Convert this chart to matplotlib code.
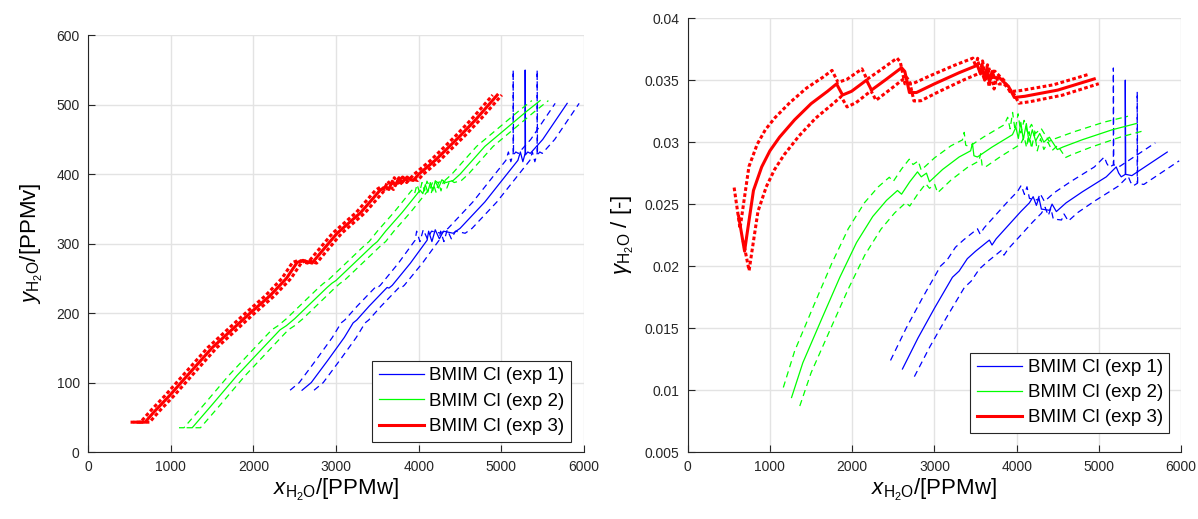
import numpy as np
import matplotlib
matplotlib.use("Agg")
import matplotlib.pyplot as plt

plt.rcParams['font.family'] = ['Liberation Sans', 'DejaVu Sans']
plt.rcParams['mathtext.fontset'] = 'custom'
plt.rcParams['mathtext.rm'] = 'Liberation Sans'
plt.rcParams['mathtext.it'] = 'Liberation Sans:italic'

labels = ["BMIM Cl (exp 1)", "BMIM Cl (exp 2)", "BMIM Cl (exp 3)"]
colors = ["#0000ff", "#00ff00", "#ff0000"]

# x error (PPMw) used for the dashed bounds of each experiment
x_err = [145, 100, 55]

# left: vapour water content vs liquid water content
exp1_x = [2589, 2700, 2900, 3100, 3207, 3250, 3400, 3618, 3640, 3680, 3900, 4102, 4120, 4160,
          4200, 4250, 4300, 4417, 4500, 4800, 5100, 5200, 5230, 5260, 5288, 5288, 5292, 5320,
          5350, 5500, 5796]
exp1_y = [89, 100, 132, 165, 186, 190, 210, 237, 236, 240, 272, 305, 318, 303,
          320, 307, 318, 315, 322, 360, 405, 420, 432, 418, 430, 550, 428, 432,
          430, 450, 502]

exp2_x = [1200, 1260, 1500, 1800, 2100, 2323, 2400, 2500, 2892, 2950, 3000, 3449, 3500, 3600,
          3800, 4017, 4050, 4080, 4110, 4140, 4170, 4200, 4240, 4280, 4330, 4417, 4500, 4800,
          5100, 5300, 5469]
exp2_y = [35, 35, 68, 110, 148, 176, 182, 192, 237, 243, 247, 298, 303, 318,
          345, 377, 372, 385, 374, 388, 376, 390, 380, 392, 388, 391, 400, 440,
          470, 490, 506]

exp3_x = [569, 690, 800, 992, 1200, 1500, 1960, 2200, 2400, 2529, 2600, 2710, 2800, 3013,
          3300, 3533, 3600, 3640, 3680, 3720, 3760, 3800, 3860, 3900, 3933, 4000, 4200, 4500,
          4700, 4950]
exp3_y = [43, 43, 58, 82, 110, 150, 200, 225, 250, 273, 276, 272, 285, 315,
          345, 377, 382, 378, 390, 384, 395, 388, 396, 392, 391, 400, 420, 455,
          480, 514]

# right: activity coefficient vs liquid water content
g1_x = [2611, 2800, 3000, 3219, 3300, 3400, 3500, 3668, 3700, 3750, 3900, 4050, 4154, 4200,
        4239, 4270, 4300, 4400, 4430, 4482, 4600, 4800, 5089, 5210, 5240, 5271, 5320, 5320,
        5325, 5400, 5490, 5830]
g1_y = [0.0117, 0.0142, 0.0166, 0.0191, 0.0196, 0.0206, 0.0212, 0.0221, 0.0217, 0.0222,
        0.0233, 0.0244, 0.0251, 0.0256, 0.0249, 0.0255, 0.0246, 0.0245, 0.0250, 0.0244,
        0.0251, 0.0260, 0.0272, 0.0280, 0.0275, 0.0272, 0.0274, 0.0350, 0.0274, 0.0273,
        0.0277, 0.0292]

g2_x = [1263, 1400, 1640, 1850, 2053, 2250, 2417, 2551, 2600, 2700, 2794, 2840, 2903, 2939,
        3100, 3300, 3440, 3462, 3480, 3522, 3700, 3948, 3990, 4020, 4050, 4080, 4117, 4150,
        4190, 4230, 4280, 4330, 4397, 4494, 4560, 4800, 5162, 5453]
g2_y = [0.0094, 0.0122, 0.0159, 0.0191, 0.0219, 0.0240, 0.0253, 0.0261, 0.0258, 0.0268,
        0.0276, 0.0272, 0.0275, 0.0268, 0.0278, 0.0288, 0.0293, 0.0299, 0.0289, 0.0288,
        0.0296, 0.0306, 0.0312, 0.0303, 0.0316, 0.0302, 0.0315, 0.0300, 0.0310, 0.0301,
        0.0307, 0.0300, 0.0304, 0.0294, 0.0296, 0.0302, 0.0310, 0.0315]

g3_x = [620, 692, 720, 800, 900, 1000, 1117, 1300, 1500, 1700, 1810, 1883, 1992, 2174,
        2235, 2400, 2600, 2640, 2696, 2781, 3000, 3300, 3522, 3560, 3580, 3610, 3640, 3670,
        3700, 3730, 3790, 3850, 3900, 3972, 4100, 4500, 4943]
g3_y = [0.0240, 0.0212, 0.0225, 0.0261, 0.0280, 0.0293, 0.0304, 0.0318, 0.0331, 0.0341,
        0.0347, 0.0338, 0.0341, 0.0350, 0.0342, 0.0350, 0.0360, 0.0357, 0.0340, 0.0340,
        0.0347, 0.0356, 0.0362, 0.0355, 0.0362, 0.0350, 0.0360, 0.0348, 0.0357, 0.0352,
        0.0352, 0.0348, 0.0345, 0.0336, 0.0337, 0.0342, 0.0351]

left_data = [(exp1_x, exp1_y), (exp2_x, exp2_y), (exp3_x, exp3_y)]
right_data = [(g1_x, g1_y), (g2_x, g2_y), (g3_x, g3_y)]
widths = [0.9, 0.9, 2.2]
dash_styles = [(0, (5, 3.5)), (0, (5, 3.5)), (0, (1.2, 0.8))]

fig = plt.figure(figsize=(11.98, 5.19), dpi=100)
ax1 = fig.add_axes([0.0735, 0.129, 0.414, 0.803])
ax2 = fig.add_axes([0.574, 0.129, 0.412, 0.836])

for i in range(3):
    x = np.array(left_data[i][0], dtype=float)
    y = np.array(left_data[i][1], dtype=float)
    dx = x_err[i]
    ax1.plot(x, y, color=colors[i], lw=widths[i], label=labels[i], zorder=3)
    ax1.plot(x - dx, y, color=colors[i], lw=widths[i], ls=dash_styles[i], zorder=3)
    ax1.plot(x + dx, y, color=colors[i], lw=widths[i], ls=dash_styles[i], zorder=3)

    gx = np.array(right_data[i][0], dtype=float)
    g = np.array(right_data[i][1], dtype=float)
    ax2.plot(gx, g, color=colors[i], lw=widths[i], label=labels[i], zorder=3)
    ax2.plot(gx - dx, g * gx / (gx - dx), color=colors[i], lw=widths[i], ls=dash_styles[i], zorder=3)
    ax2.plot(gx + dx, g * gx / (gx + dx), color=colors[i], lw=widths[i], ls=dash_styles[i], zorder=3)

ax1.set_xlim(0, 6000)
ax1.set_ylim(0, 600)
ax2.set_xlim(0, 6000)
ax2.set_ylim(0.005, 0.04)
ax2.set_yticks([0.005, 0.01, 0.015, 0.02, 0.025, 0.03, 0.035, 0.04])
ax2.set_yticklabels(["0.005", "0.01", "0.015", "0.02", "0.025", "0.03", "0.035", "0.04"])

for ax in (ax1, ax2):
    ax.set_xticks([0, 1000, 2000, 3000, 4000, 5000, 6000])
    ax.spines['top'].set_visible(False)
    ax.spines['right'].set_visible(False)
    for s in ('left', 'bottom'):
        ax.spines[s].set_color('#262626')
        ax.spines[s].set_linewidth(0.8)
    ax.tick_params(direction='in', length=5, width=0.8, colors='#262626', labelsize=10, pad=6)
    ax.grid(True, color='#e3e3e3', lw=1)
    ax.set_axisbelow(True)
    ax.set_xlabel(r'$\mathit{x}_{\mathrm{H_2O}}$/[PPMw]', fontsize=16, labelpad=2)

ax1.set_ylabel(r'$\mathit{y}_{\mathrm{H_2O}}$/[PPMv]', fontsize=16, labelpad=8)
ax2.set_ylabel(r'$\gamma_{\mathrm{H_2O}}$ / [-]', fontsize=16, labelpad=6)

leg1 = ax1.legend(loc='lower right', bbox_to_anchor=(0.974, 0.024), fontsize=13.5,
                  handlelength=2.4, labelspacing=0.45, borderpad=0.35, handletextpad=0.3,
                  borderaxespad=0, fancybox=False, framealpha=1, edgecolor='#262626')
leg2 = ax2.legend(loc='lower right', bbox_to_anchor=(0.976, 0.044), fontsize=13.5,
                  handlelength=2.4, labelspacing=0.42, borderpad=0.35, handletextpad=0.3,
                  borderaxespad=0, fancybox=False, framealpha=1, edgecolor='#262626')
for leg in (leg1, leg2):
    leg.get_frame().set_linewidth(0.8)

fig.savefig("out.png", dpi=100)
